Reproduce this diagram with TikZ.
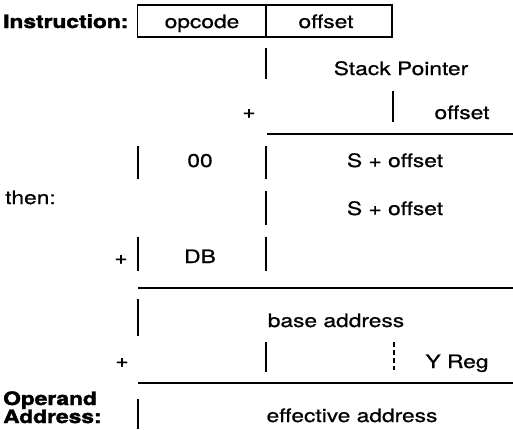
\documentclass[tikz,border=0pt]{standalone}
\usepackage{fontspec}
\setmainfont{TeX Gyre Heros}[RawFeature={embolden=0.6}, BoldFeatures={RawFeature={embolden=1.8}}]
\usepackage{graphicx}
\newcommand{\wx}[1]{\scalebox{1.23}[1]{#1}}
\begin{document}
\begin{tikzpicture}[x=1pt,y=-1pt,
  lbl/.style={inner sep=0pt, anchor=base, font=\fontsize{18.5}{20}\selectfont},
  blbl/.style={inner sep=0pt, anchor=base west, font=\fontsize{18.5}{20}\selectfont\bfseries},
  field/.style={draw, line width=1.1pt, inner sep=0pt, minimum height=32pt},
  vbar/.style={line width=1.1pt},
  dbar/.style={line width=1.1pt, dash pattern=on 5pt off 3pt},
  hrule/.style={line width=1.7pt}]
\useasboundingbox (0,0) rectangle (513,429);

% instruction fields
\node[field, minimum width=128pt] (opbox) at (201.5,21) {};
\node[field, minimum width=126pt] (ofbox) at (329,21) {};
\node[blbl] (instr) at (3,28) {\wx{Instruction:}};
\node[lbl] (opcode) at (202,28) {\wx{opcode}};
\node[lbl] (offset1) at (326,28) {\wx{offset}};

% stack pointer + offset
\coordinate (v1a) at (266,48); \coordinate (v1b) at (266,79);
\draw[vbar] (v1a) -- (v1b);
\node[lbl] (sp) at (401,75) {\wx{Stack Pointer}};
\node[lbl] (plus1) at (249,118) {\wx{+}};
\coordinate (v2a) at (393,91); \coordinate (v2b) at (393,122);
\draw[vbar] (v2a) -- (v2b);
\node[lbl] (offset2) at (462,119) {\wx{offset}};
\coordinate (h1a) at (267,134); \coordinate (h1b) at (513,134);
\draw[hrule] (h1a) -- (h1b);

% 00 | S + offset
\coordinate (v3a) at (138,146); \coordinate (v3b) at (138,179);
\coordinate (v4a) at (266,146); \coordinate (v4b) at (266,179);
\draw[vbar] (v3a) -- (v3b);
\draw[vbar] (v4a) -- (v4b);
\node[lbl] (zz) at (200,167) {\wx{00}};
\node[lbl] (so1) at (395,167) {\wx{S + offset}};

% then:
\node[blbl, font=\fontsize{18.5}{20}\selectfont] (then) at (5,204) {\wx{then:}};
\coordinate (v5a) at (266,191); \coordinate (v5b) at (266,225);
\draw[vbar] (v5a) -- (v5b);
\node[lbl] (so2) at (395,215) {\wx{S + offset}};

% + DB
\node[lbl] (plus2) at (121,264) {\wx{+}};
\coordinate (v6a) at (138,237); \coordinate (v6b) at (138,271);
\coordinate (v7a) at (266,237); \coordinate (v7b) at (266,271);
\draw[vbar] (v6a) -- (v6b);
\draw[vbar] (v7a) -- (v7b);
\node[lbl] (db) at (200,263) {\wx{DB}};
\coordinate (h2a) at (138,288); \coordinate (h2b) at (513,288);
\draw[hrule] (h2a) -- (h2b);

% base address
\coordinate (v8a) at (138,299); \coordinate (v8b) at (138,336);
\draw[vbar] (v8a) -- (v8b);
\node[lbl] (base) at (336,327) {\wx{base address}};

% + Y Reg
\node[lbl] (plus3) at (122,367) {\wx{+}};
\coordinate (v9a) at (266,342); \coordinate (v9b) at (266,372);
\draw[vbar] (v9a) -- (v9b);
\coordinate (v10a) at (394,342); \coordinate (v10b) at (394,370);
\draw[dbar] (v10a) -- (v10b);
\node[lbl] (yreg) at (457,368) {\wx{Y Reg}};
\coordinate (h3a) at (138,383); \coordinate (h3b) at (513,383);
\draw[hrule] (h3a) -- (h3b);

% operand address
\node[blbl] (operand) at (3,405) {\wx{Operand}};
\node[blbl] (address) at (3,423) {\wx{Address:}};
\coordinate (v11a) at (138,399); \coordinate (v11b) at (138,429);
\draw[vbar] (v11a) -- (v11b);
\node[lbl] (eff) at (352,422) {\wx{effective address}};
\end{tikzpicture}
\end{document}
